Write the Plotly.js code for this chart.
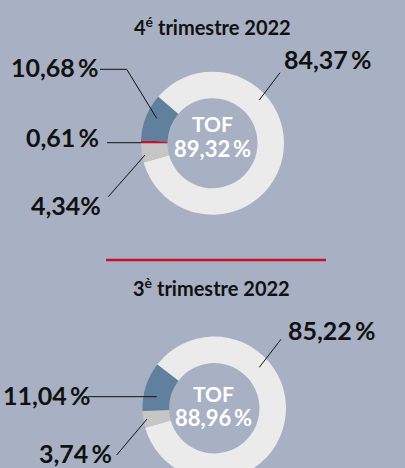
<!DOCTYPE html>
<html>
<head>
<meta charset="utf-8">
<script src="https://cdn.plot.ly/plotly-3.0.1.min.js"></script>
<style>
html,body{margin:0;padding:0;overflow:hidden;background:#a8b1c3;}
#chart{width:405px;height:490px;}
</style>
</head>
<body>
<div id="chart"></div>
<script>
// ---- data ----
var categories = ["Part principale", "Part grise", "Part rouge", "Part bleue"];
var periods = ["4<sup>é</sup> trimestre 2022", "3<sup>è</sup> trimestre 2022"];
var q4Values = [84.37, 4.34, 0.61, 10.68];
var q3Values = [85.22, 3.74, 0, 11.04];
var tofValues = [89.32, 88.96];
var sliceColors = ["#ebebeb", "#c6c6c6", "#c8102e", "#60809d"];

// ---- layout helpers (pixel -> paper) ----
var W = 405, H = 490;
function px(x){ return x / W; }
function py(y){ return 1 - y / H; }
function fmt(v, sp){ return v.toFixed(2).replace('.', ',') + (sp === undefined ? '\u2009' : sp) + '%'; }
function dom(cx, cy, r){ return {x:[px(cx - r), px(cx + r)], y:[py(cy + r), py(cy - r)]}; }

var FONT = "Lato, 'Noto Sans', sans-serif";

function donut(values, domain, rotation){
  return {
    type: 'pie', labels: categories, values: values, sort: false,
    direction: 'clockwise', rotation: rotation, hole: 0.63,
    marker: {colors: sliceColors, line: {width: 0}},
    textinfo: 'none', hoverinfo: 'none', showlegend: false,
    domain: domain
  };
}

var traces = [
  donut(q4Values, dom(212.5, 143.2, 71.5), 310.6),
  donut(q3Values, dom(214.25, 408.25, 71.75), 307.5)
];

function label(text, x, y, xanchor, size, color){
  return {text: text, xref:'paper', yref:'paper', x: px(x), y: py(y),
    xanchor: xanchor, yanchor: 'middle', showarrow: false, borderpad: 0,
    font: {family: FONT, size: size, color: color || '#111', weight: 'bold'}};
}

var annotations = [
  label(periods[0], 212, 26, 'center', 20),
  label(fmt(q4Values[0]), 283, 59, 'left', 25),
  label(fmt(q4Values[3]), 99, 67, 'right', 25),
  label(fmt(q4Values[2]), 100, 137, 'right', 25),
  label(fmt(q4Values[1], ''), 102, 205, 'right', 25),
  label('TOF', 212.5, 124, 'center', 21, '#ffffff'),
  label(fmt(tofValues[0]), 212.5, 148, 'center', 22, '#ffffff'),

  label(periods[1], 211, 287, 'center', 20),
  label(fmt(q3Values[0]), 287, 330, 'left', 25),
  label(fmt(q3Values[3]), 91, 395, 'right', 25),
  label(fmt(q3Values[1]), 113, 453, 'right', 25),
  label('TOF', 213.5, 393, 'center', 21, '#ffffff'),
  label(fmt(tofValues[1]), 213.5, 417, 'center', 22, '#ffffff')
];

function seg(x0, y0, x1, y1, color, width){
  return {type:'line', xref:'paper', yref:'paper', x0: px(x0), y0: py(y0), x1: px(x1), y1: py(y1),
    line: {color: color || '#111', width: width || 1}};
}

var shapes = [
  // top leaders
  seg(100, 69.3, 126.7, 69.3), seg(126.7, 69.3, 156.7, 118.3),
  seg(107, 142.7, 141, 142.7),
  seg(108.3, 196.7, 145, 155),
  seg(280, 72.7, 259.3, 100),
  // separator
  seg(106, 260, 326, 260, '#c8102e', 2.5),
  // bottom leaders
  seg(281, 339.3, 259.3, 367.3),
  seg(88, 396.7, 156.7, 396.7),
  seg(116.7, 455, 147, 419)
];

var layout = {
  width: W, height: H,
  margin: {l:0, r:0, t:0, b:0},
  paper_bgcolor: '#a8b1c3', plot_bgcolor: '#a8b1c3',
  showlegend: false,
  annotations: annotations,
  shapes: shapes
};

Plotly.newPlot('chart', traces, layout, {displayModeBar: false, staticPlot: true});
</script>
</body>
</html>
